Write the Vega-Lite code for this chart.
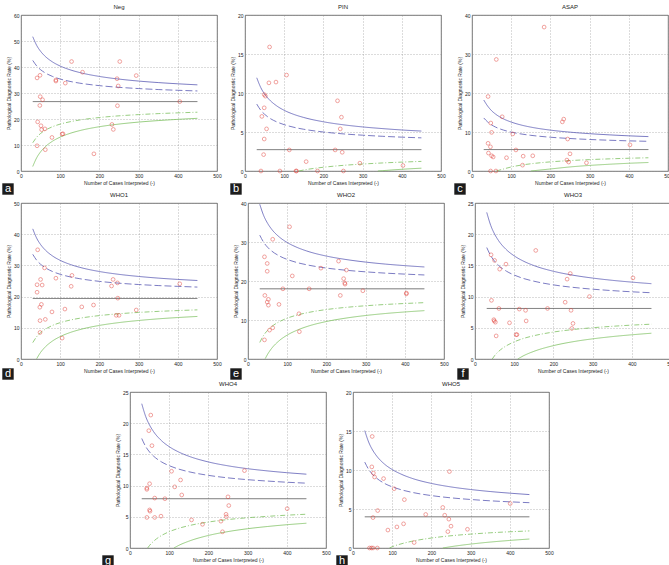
{
  "$schema": "https://vega.github.io/schema/vega-lite/v6.json",
  "background": "white",
  "padding": {"top": 3, "left": 1, "right": 0, "bottom": 0},
  "config": {
    "font": "Liberation Sans",
    "view": {"stroke": "#555555", "strokeWidth": 0.8},
    "axis": {"labelFontSize": 5, "titleFontSize": 5, "titleFontWeight": "normal", "labelColor": "#222222", "titleColor": "#222222", "gridColor": "#8a8a8a", "gridDash": [1, 2], "gridWidth": 0.6, "domain": false, "ticks": false, "labelPadding": 2, "titlePadding": 2, "labelOverlap": false, "labelFlush": false},
    "title": {"fontSize": 6, "fontWeight": "normal", "offset": 3, "color": "#222222"}
  },
  "datasets": {
    "tags": [
      {"p": "a", "letter": "a"}, {"p": "b", "letter": "b"}, {"p": "c", "letter": "c"},
      {"p": "d", "letter": "d"}, {"p": "e", "letter": "e"}, {"p": "f", "letter": "f"},
      {"p": "g", "letter": "g"}, {"p": "h", "letter": "h"}
    ],
    "pts": [
      {"p": "a", "n": 129, "v": 42.1}, {"p": "a", "n": 252, "v": 42.1}, {"p": "a", "n": 41, "v": 35.8}, {"p": "a", "n": 48.5, "v": 36.8}, {"p": "a", "n": 89, "v": 35.0}, {"p": "a", "n": 89, "v": 34.6}, {"p": "a", "n": 113, "v": 33.8}, {"p": "a", "n": 157, "v": 38.0}, {"p": "a", "n": 245, "v": 35.5}, {"p": "a", "n": 248, "v": 32.7}, {"p": "a", "n": 294, "v": 36.7}, {"p": "a", "n": 49, "v": 28.6}, {"p": "a", "n": 55, "v": 27.4}, {"p": "a", "n": 48, "v": 25.2}, {"p": "a", "n": 246, "v": 25.1}, {"p": "a", "n": 405, "v": 26.7}, {"p": "a", "n": 42.5, "v": 18.9}, {"p": "a", "n": 51, "v": 17.4}, {"p": "a", "n": 52.7, "v": 15.9}, {"p": "a", "n": 61, "v": 16.2}, {"p": "a", "n": 79, "v": 12.9}, {"p": "a", "n": 105, "v": 14.2}, {"p": "a", "n": 107, "v": 14.3}, {"p": "a", "n": 41, "v": 9.7}, {"p": "a", "n": 62, "v": 8.2}, {"p": "a", "n": 186, "v": 6.6}, {"p": "a", "n": 232, "v": 17.9}, {"p": "a", "n": 235.5, "v": 16.0},
      {"p": "b", "n": 62.7, "v": 15.9}, {"p": "b", "n": 61, "v": 11.3}, {"p": "b", "n": 79, "v": 11.4}, {"p": "b", "n": 106, "v": 12.3}, {"p": "b", "n": 49, "v": 9.8}, {"p": "b", "n": 52, "v": 9.6}, {"p": "b", "n": 49, "v": 8.1}, {"p": "b", "n": 43, "v": 7.0}, {"p": "b", "n": 55, "v": 5.4}, {"p": "b", "n": 49, "v": 4.1}, {"p": "b", "n": 47.5, "v": 2.1}, {"p": "b", "n": 113, "v": 2.7}, {"p": "b", "n": 156, "v": 1.2}, {"p": "b", "n": 230, "v": 2.7}, {"p": "b", "n": 248, "v": 2.4}, {"p": "b", "n": 236, "v": 9.0}, {"p": "b", "n": 246, "v": 6.9}, {"p": "b", "n": 243, "v": 5.4}, {"p": "b", "n": 293, "v": 1.0}, {"p": "b", "n": 403, "v": 0.7}, {"p": "b", "n": 40.7, "v": 0}, {"p": "b", "n": 89, "v": 0}, {"p": "b", "n": 130, "v": 0}, {"p": "b", "n": 131.5, "v": 0}, {"p": "b", "n": 185, "v": 0}, {"p": "b", "n": 251, "v": 0},
      {"p": "c", "n": 184, "v": 36.9}, {"p": "c", "n": 62, "v": 28.6}, {"p": "c", "n": 41, "v": 19.1}, {"p": "c", "n": 77, "v": 13.9}, {"p": "c", "n": 48, "v": 12.3}, {"p": "c", "n": 50, "v": 9.9}, {"p": "c", "n": 104, "v": 9.5}, {"p": "c", "n": 41, "v": 7.1}, {"p": "c", "n": 47, "v": 6.2}, {"p": "c", "n": 230.5, "v": 12.6}, {"p": "c", "n": 234, "v": 13.3}, {"p": "c", "n": 244, "v": 8.2}, {"p": "c", "n": 403, "v": 6.7}, {"p": "c", "n": 112, "v": 5.4}, {"p": "c", "n": 42, "v": 4.6}, {"p": "c", "n": 50, "v": 3.9}, {"p": "c", "n": 54, "v": 3.6}, {"p": "c", "n": 88, "v": 3.4}, {"p": "c", "n": 130.5, "v": 3.8}, {"p": "c", "n": 155, "v": 3.9}, {"p": "c", "n": 250, "v": 4.4}, {"p": "c", "n": 242, "v": 2.8}, {"p": "c", "n": 246.6, "v": 2.3}, {"p": "c", "n": 292, "v": 2.1}, {"p": "c", "n": 129, "v": 1.5}, {"p": "c", "n": 47.5, "v": 0}, {"p": "c", "n": 61, "v": 0},
      {"p": "d", "n": 42.5, "v": 35.0}, {"p": "d", "n": 60, "v": 29.2}, {"p": "d", "n": 130, "v": 26.8}, {"p": "d", "n": 89, "v": 25.9}, {"p": "d", "n": 50, "v": 25.5}, {"p": "d", "n": 41, "v": 23.8}, {"p": "d", "n": 54, "v": 23.7}, {"p": "d", "n": 41, "v": 21.4}, {"p": "d", "n": 128, "v": 23.3}, {"p": "d", "n": 235, "v": 25.5}, {"p": "d", "n": 246, "v": 24.4}, {"p": "d", "n": 231, "v": 23.4}, {"p": "d", "n": 405, "v": 24.1}, {"p": "d", "n": 247, "v": 19.5}, {"p": "d", "n": 52, "v": 17.5}, {"p": "d", "n": 48, "v": 16.6}, {"p": "d", "n": 155, "v": 16.7}, {"p": "d", "n": 185, "v": 17.3}, {"p": "d", "n": 112, "v": 16.0}, {"p": "d", "n": 79, "v": 15.1}, {"p": "d", "n": 294, "v": 15.7}, {"p": "d", "n": 62, "v": 12.7}, {"p": "d", "n": 48.5, "v": 12.3}, {"p": "d", "n": 243, "v": 14.0}, {"p": "d", "n": 250, "v": 14.0}, {"p": "d", "n": 48.5, "v": 8.5}, {"p": "d", "n": 105, "v": 6.7},
      {"p": "e", "n": 106, "v": 33.9}, {"p": "e", "n": 63, "v": 30.7}, {"p": "e", "n": 42, "v": 26.2}, {"p": "e", "n": 49, "v": 24.5}, {"p": "e", "n": 49, "v": 22.5}, {"p": "e", "n": 113, "v": 21.3}, {"p": "e", "n": 186, "v": 23.3}, {"p": "e", "n": 231, "v": 25.1}, {"p": "e", "n": 251, "v": 22.8}, {"p": "e", "n": 244, "v": 20.6}, {"p": "e", "n": 247, "v": 19.5}, {"p": "e", "n": 247.5, "v": 19.2}, {"p": "e", "n": 89, "v": 18.0}, {"p": "e", "n": 156, "v": 18.0}, {"p": "e", "n": 293, "v": 17.5}, {"p": "e", "n": 404, "v": 16.9}, {"p": "e", "n": 404, "v": 16.7}, {"p": "e", "n": 43, "v": 16.3}, {"p": "e", "n": 235.5, "v": 16.3}, {"p": "e", "n": 52, "v": 15.3}, {"p": "e", "n": 49, "v": 14.6}, {"p": "e", "n": 52, "v": 13.8}, {"p": "e", "n": 79, "v": 14.0}, {"p": "e", "n": 130, "v": 11.6}, {"p": "e", "n": 63, "v": 8.0}, {"p": "e", "n": 55, "v": 7.4}, {"p": "e", "n": 131, "v": 7.0}, {"p": "e", "n": 42, "v": 4.9},
      {"p": "f", "n": 155, "v": 17.4}, {"p": "f", "n": 41, "v": 16.7}, {"p": "f", "n": 50, "v": 15.8}, {"p": "f", "n": 79, "v": 15.2}, {"p": "f", "n": 63, "v": 14.4}, {"p": "f", "n": 243, "v": 13.7}, {"p": "f", "n": 235, "v": 12.8}, {"p": "f", "n": 403, "v": 13.0}, {"p": "f", "n": 292, "v": 10.0}, {"p": "f", "n": 42, "v": 9.4}, {"p": "f", "n": 230, "v": 9.1}, {"p": "f", "n": 61, "v": 8.1}, {"p": "f", "n": 113, "v": 8.0}, {"p": "f", "n": 185, "v": 8.1}, {"p": "f", "n": 129, "v": 7.8}, {"p": "f", "n": 245, "v": 7.8}, {"p": "f", "n": 48, "v": 6.3}, {"p": "f", "n": 49, "v": 6.1}, {"p": "f", "n": 52, "v": 5.9}, {"p": "f", "n": 88, "v": 5.8}, {"p": "f", "n": 130.5, "v": 6.1}, {"p": "f", "n": 250, "v": 5.7}, {"p": "f", "n": 247, "v": 4.9}, {"p": "f", "n": 105, "v": 3.9}, {"p": "f", "n": 107, "v": 3.9}, {"p": "f", "n": 54, "v": 3.7},
      {"p": "g", "n": 53, "v": 21.3}, {"p": "g", "n": 48, "v": 18.8}, {"p": "g", "n": 56, "v": 16.4}, {"p": "g", "n": 106, "v": 12.3}, {"p": "g", "n": 292, "v": 12.4}, {"p": "g", "n": 129, "v": 10.9}, {"p": "g", "n": 50, "v": 10.3}, {"p": "g", "n": 114, "v": 9.8}, {"p": "g", "n": 43, "v": 9.6}, {"p": "g", "n": 43, "v": 9.4}, {"p": "g", "n": 132, "v": 8.5}, {"p": "g", "n": 63, "v": 8.0}, {"p": "g", "n": 89, "v": 7.9}, {"p": "g", "n": 250, "v": 8.2}, {"p": "g", "n": 252, "v": 6.8}, {"p": "g", "n": 50, "v": 6.1}, {"p": "g", "n": 51, "v": 5.9}, {"p": "g", "n": 401, "v": 6.3}, {"p": "g", "n": 43, "v": 4.9}, {"p": "g", "n": 63, "v": 4.9}, {"p": "g", "n": 79, "v": 5.1}, {"p": "g", "n": 157, "v": 4.5}, {"p": "g", "n": 185, "v": 3.8}, {"p": "g", "n": 232, "v": 4.3}, {"p": "g", "n": 245, "v": 5.4}, {"p": "g", "n": 246, "v": 5.0}, {"p": "g", "n": 236, "v": 2.6},
      {"p": "h", "n": 49, "v": 14.3}, {"p": "h", "n": 48, "v": 10.4}, {"p": "h", "n": 52, "v": 9.6}, {"p": "h", "n": 55, "v": 9.1}, {"p": "h", "n": 78, "v": 8.9}, {"p": "h", "n": 246, "v": 9.8}, {"p": "h", "n": 105, "v": 7.6}, {"p": "h", "n": 131, "v": 6.2}, {"p": "h", "n": 401, "v": 5.7}, {"p": "h", "n": 63, "v": 4.8}, {"p": "h", "n": 229, "v": 5.2}, {"p": "h", "n": 185.5, "v": 4.3}, {"p": "h", "n": 234, "v": 4.2}, {"p": "h", "n": 51, "v": 3.9}, {"p": "h", "n": 244.5, "v": 3.7}, {"p": "h", "n": 129, "v": 3.1}, {"p": "h", "n": 250, "v": 2.8}, {"p": "h", "n": 112, "v": 2.7}, {"p": "h", "n": 89, "v": 2.3}, {"p": "h", "n": 292, "v": 2.4}, {"p": "h", "n": 242, "v": 2.1}, {"p": "h", "n": 156, "v": 0.7}, {"p": "h", "n": 42, "v": 0}, {"p": "h", "n": 47, "v": 0}, {"p": "h", "n": 51, "v": 0}, {"p": "h", "n": 62, "v": 0}
    ],
    "lim": [
      {"p": "a", "c": "m", "n": 30, "v": 26.7}, {"p": "a", "c": "m", "n": 450, "v": 26.7},
      {"p": "a", "c": "u3", "n": 30, "v": 51.66}, {"p": "a", "c": "u3", "n": 40, "v": 48.31}, {"p": "a", "c": "u3", "n": 50, "v": 46.03}, {"p": "a", "c": "u3", "n": 60, "v": 44.35}, {"p": "a", "c": "u3", "n": 80, "v": 41.98}, {"p": "a", "c": "u3", "n": 100, "v": 40.37}, {"p": "a", "c": "u3", "n": 125, "v": 38.93}, {"p": "a", "c": "u3", "n": 150, "v": 37.86}, {"p": "a", "c": "u3", "n": 200, "v": 36.37}, {"p": "a", "c": "u3", "n": 250, "v": 35.35}, {"p": "a", "c": "u3", "n": 300, "v": 34.59}, {"p": "a", "c": "u3", "n": 350, "v": 34.01}, {"p": "a", "c": "u3", "n": 400, "v": 33.54}, {"p": "a", "c": "u3", "n": 450, "v": 33.14},
      {"p": "a", "c": "u2", "n": 30, "v": 42.53}, {"p": "a", "c": "u2", "n": 40, "v": 40.41}, {"p": "a", "c": "u2", "n": 50, "v": 38.96}, {"p": "a", "c": "u2", "n": 60, "v": 37.89}, {"p": "a", "c": "u2", "n": 80, "v": 36.39}, {"p": "a", "c": "u2", "n": 100, "v": 35.37}, {"p": "a", "c": "u2", "n": 125, "v": 34.46}, {"p": "a", "c": "u2", "n": 150, "v": 33.78}, {"p": "a", "c": "u2", "n": 200, "v": 32.83}, {"p": "a", "c": "u2", "n": 250, "v": 32.18}, {"p": "a", "c": "u2", "n": 300, "v": 31.71}, {"p": "a", "c": "u2", "n": 350, "v": 31.33}, {"p": "a", "c": "u2", "n": 400, "v": 31.04}, {"p": "a", "c": "u2", "n": 450, "v": 30.79},
      {"p": "a", "c": "l2", "n": 30, "v": 10.87}, {"p": "a", "c": "l2", "n": 40, "v": 12.99}, {"p": "a", "c": "l2", "n": 50, "v": 14.44}, {"p": "a", "c": "l2", "n": 60, "v": 15.51}, {"p": "a", "c": "l2", "n": 80, "v": 17.01}, {"p": "a", "c": "l2", "n": 100, "v": 18.03}, {"p": "a", "c": "l2", "n": 125, "v": 18.94}, {"p": "a", "c": "l2", "n": 150, "v": 19.62}, {"p": "a", "c": "l2", "n": 200, "v": 20.57}, {"p": "a", "c": "l2", "n": 250, "v": 21.22}, {"p": "a", "c": "l2", "n": 300, "v": 21.69}, {"p": "a", "c": "l2", "n": 350, "v": 22.07}, {"p": "a", "c": "l2", "n": 400, "v": 22.36}, {"p": "a", "c": "l2", "n": 450, "v": 22.61},
      {"p": "a", "c": "l3", "n": 30, "v": 1.74}, {"p": "a", "c": "l3", "n": 40, "v": 5.09}, {"p": "a", "c": "l3", "n": 50, "v": 7.37}, {"p": "a", "c": "l3", "n": 60, "v": 9.05}, {"p": "a", "c": "l3", "n": 80, "v": 11.42}, {"p": "a", "c": "l3", "n": 100, "v": 13.03}, {"p": "a", "c": "l3", "n": 125, "v": 14.47}, {"p": "a", "c": "l3", "n": 150, "v": 15.54}, {"p": "a", "c": "l3", "n": 200, "v": 17.03}, {"p": "a", "c": "l3", "n": 250, "v": 18.05}, {"p": "a", "c": "l3", "n": 300, "v": 18.81}, {"p": "a", "c": "l3", "n": 350, "v": 19.39}, {"p": "a", "c": "l3", "n": 400, "v": 19.86}, {"p": "a", "c": "l3", "n": 450, "v": 20.26},

      {"p": "b", "c": "m", "n": 30, "v": 2.74}, {"p": "b", "c": "m", "n": 450, "v": 2.74},
      {"p": "b", "c": "u3", "n": 30, "v": 11.95}, {"p": "b", "c": "u3", "n": 40, "v": 10.72}, {"p": "b", "c": "u3", "n": 50, "v": 9.87}, {"p": "b", "c": "u3", "n": 60, "v": 9.25}, {"p": "b", "c": "u3", "n": 80, "v": 8.38}, {"p": "b", "c": "u3", "n": 100, "v": 7.78}, {"p": "b", "c": "u3", "n": 125, "v": 7.25}, {"p": "b", "c": "u3", "n": 150, "v": 6.86}, {"p": "b", "c": "u3", "n": 200, "v": 6.31}, {"p": "b", "c": "u3", "n": 250, "v": 5.93}, {"p": "b", "c": "u3", "n": 300, "v": 5.65}, {"p": "b", "c": "u3", "n": 350, "v": 5.44}, {"p": "b", "c": "u3", "n": 400, "v": 5.26}, {"p": "b", "c": "u3", "n": 450, "v": 5.12},
      {"p": "b", "c": "u2", "n": 30, "v": 8.58}, {"p": "b", "c": "u2", "n": 40, "v": 7.80}, {"p": "b", "c": "u2", "n": 50, "v": 7.27}, {"p": "b", "c": "u2", "n": 60, "v": 6.87}, {"p": "b", "c": "u2", "n": 80, "v": 6.32}, {"p": "b", "c": "u2", "n": 100, "v": 5.94}, {"p": "b", "c": "u2", "n": 125, "v": 5.60}, {"p": "b", "c": "u2", "n": 150, "v": 5.35}, {"p": "b", "c": "u2", "n": 200, "v": 5.00}, {"p": "b", "c": "u2", "n": 250, "v": 4.76}, {"p": "b", "c": "u2", "n": 300, "v": 4.59}, {"p": "b", "c": "u2", "n": 350, "v": 4.45}, {"p": "b", "c": "u2", "n": 400, "v": 4.34}, {"p": "b", "c": "u2", "n": 450, "v": 4.25},
      {"p": "b", "c": "l2", "n": 137, "v": 0}, {"p": "b", "c": "l2", "n": 150, "v": 0.13}, {"p": "b", "c": "l2", "n": 200, "v": 0.48}, {"p": "b", "c": "l2", "n": 250, "v": 0.72}, {"p": "b", "c": "l2", "n": 300, "v": 0.89}, {"p": "b", "c": "l2", "n": 350, "v": 1.03}, {"p": "b", "c": "l2", "n": 400, "v": 1.14}, {"p": "b", "c": "l2", "n": 450, "v": 1.23},
      {"p": "b", "c": "l3", "n": 339, "v": 0}, {"p": "b", "c": "l3", "n": 350, "v": 0.04}, {"p": "b", "c": "l3", "n": 400, "v": 0.22}, {"p": "b", "c": "l3", "n": 450, "v": 0.36},

      {"p": "c", "c": "m", "n": 30, "v": 5.5}, {"p": "c", "c": "m", "n": 450, "v": 5.5},
      {"p": "c", "c": "u3", "n": 30, "v": 18.2}, {"p": "c", "c": "u3", "n": 40, "v": 16.64}, {"p": "c", "c": "u3", "n": 50, "v": 15.46}, {"p": "c", "c": "u3", "n": 60, "v": 14.60}, {"p": "c", "c": "u3", "n": 80, "v": 13.38}, {"p": "c", "c": "u3", "n": 100, "v": 12.55}, {"p": "c", "c": "u3", "n": 125, "v": 11.80}, {"p": "c", "c": "u3", "n": 150, "v": 11.25}, {"p": "c", "c": "u3", "n": 200, "v": 10.48}, {"p": "c", "c": "u3", "n": 250, "v": 9.96}, {"p": "c", "c": "u3", "n": 300, "v": 9.57}, {"p": "c", "c": "u3", "n": 350, "v": 9.27}, {"p": "c", "c": "u3", "n": 400, "v": 9.02}, {"p": "c", "c": "u3", "n": 450, "v": 8.82},
      {"p": "c", "c": "u2", "n": 30, "v": 13.6}, {"p": "c", "c": "u2", "n": 40, "v": 12.57}, {"p": "c", "c": "u2", "n": 50, "v": 11.82}, {"p": "c", "c": "u2", "n": 60, "v": 11.27}, {"p": "c", "c": "u2", "n": 80, "v": 10.50}, {"p": "c", "c": "u2", "n": 100, "v": 9.97}, {"p": "c", "c": "u2", "n": 125, "v": 9.50}, {"p": "c", "c": "u2", "n": 150, "v": 9.15}, {"p": "c", "c": "u2", "n": 200, "v": 8.66}, {"p": "c", "c": "u2", "n": 250, "v": 8.33}, {"p": "c", "c": "u2", "n": 300, "v": 8.08}, {"p": "c", "c": "u2", "n": 350, "v": 7.89}, {"p": "c", "c": "u2", "n": 400, "v": 7.73}, {"p": "c", "c": "u2", "n": 450, "v": 7.61},
      {"p": "c", "c": "l2", "n": 62, "v": 0}, {"p": "c", "c": "l2", "n": 80, "v": 0.50}, {"p": "c", "c": "l2", "n": 100, "v": 1.03}, {"p": "c", "c": "l2", "n": 125, "v": 1.50}, {"p": "c", "c": "l2", "n": 150, "v": 1.85}, {"p": "c", "c": "l2", "n": 200, "v": 2.34}, {"p": "c", "c": "l2", "n": 250, "v": 2.67}, {"p": "c", "c": "l2", "n": 300, "v": 2.92}, {"p": "c", "c": "l2", "n": 350, "v": 3.11}, {"p": "c", "c": "l2", "n": 400, "v": 3.27}, {"p": "c", "c": "l2", "n": 450, "v": 3.39},
      {"p": "c", "c": "l3", "n": 150, "v": 0}, {"p": "c", "c": "l3", "n": 200, "v": 0.52}, {"p": "c", "c": "l3", "n": 250, "v": 1.04}, {"p": "c", "c": "l3", "n": 300, "v": 1.43}, {"p": "c", "c": "l3", "n": 350, "v": 1.73}, {"p": "c", "c": "l3", "n": 400, "v": 1.98}, {"p": "c", "c": "l3", "n": 450, "v": 2.18},

      {"p": "d", "c": "m", "n": 30, "v": 19.4}, {"p": "d", "c": "m", "n": 450, "v": 19.4},
      {"p": "d", "c": "u3", "n": 30, "v": 41.71}, {"p": "d", "c": "u3", "n": 40, "v": 38.72}, {"p": "d", "c": "u3", "n": 50, "v": 36.68}, {"p": "d", "c": "u3", "n": 60, "v": 35.18}, {"p": "d", "c": "u3", "n": 80, "v": 33.06}, {"p": "d", "c": "u3", "n": 100, "v": 31.62}, {"p": "d", "c": "u3", "n": 125, "v": 30.33}, {"p": "d", "c": "u3", "n": 150, "v": 29.38}, {"p": "d", "c": "u3", "n": 200, "v": 28.04}, {"p": "d", "c": "u3", "n": 250, "v": 27.13}, {"p": "d", "c": "u3", "n": 300, "v": 26.46}, {"p": "d", "c": "u3", "n": 350, "v": 25.93}, {"p": "d", "c": "u3", "n": 400, "v": 25.51}, {"p": "d", "c": "u3", "n": 450, "v": 25.16},
      {"p": "d", "c": "u2", "n": 30, "v": 33.55}, {"p": "d", "c": "u2", "n": 40, "v": 31.65}, {"p": "d", "c": "u2", "n": 50, "v": 30.36}, {"p": "d", "c": "u2", "n": 60, "v": 29.41}, {"p": "d", "c": "u2", "n": 80, "v": 28.06}, {"p": "d", "c": "u2", "n": 100, "v": 27.15}, {"p": "d", "c": "u2", "n": 125, "v": 26.33}, {"p": "d", "c": "u2", "n": 150, "v": 25.73}, {"p": "d", "c": "u2", "n": 200, "v": 24.88}, {"p": "d", "c": "u2", "n": 250, "v": 24.30}, {"p": "d", "c": "u2", "n": 300, "v": 23.87}, {"p": "d", "c": "u2", "n": 350, "v": 23.54}, {"p": "d", "c": "u2", "n": 400, "v": 23.28}, {"p": "d", "c": "u2", "n": 450, "v": 23.05},
      {"p": "d", "c": "l2", "n": 30, "v": 5.25}, {"p": "d", "c": "l2", "n": 40, "v": 7.15}, {"p": "d", "c": "l2", "n": 50, "v": 8.44}, {"p": "d", "c": "l2", "n": 60, "v": 9.39}, {"p": "d", "c": "l2", "n": 80, "v": 10.74}, {"p": "d", "c": "l2", "n": 100, "v": 11.65}, {"p": "d", "c": "l2", "n": 125, "v": 12.47}, {"p": "d", "c": "l2", "n": 150, "v": 13.07}, {"p": "d", "c": "l2", "n": 200, "v": 13.92}, {"p": "d", "c": "l2", "n": 250, "v": 14.50}, {"p": "d", "c": "l2", "n": 300, "v": 14.93}, {"p": "d", "c": "l2", "n": 350, "v": 15.26}, {"p": "d", "c": "l2", "n": 400, "v": 15.52}, {"p": "d", "c": "l2", "n": 450, "v": 15.75},
      {"p": "d", "c": "l3", "n": 40, "v": 0.08}, {"p": "d", "c": "l3", "n": 50, "v": 2.12}, {"p": "d", "c": "l3", "n": 60, "v": 3.62}, {"p": "d", "c": "l3", "n": 80, "v": 5.74}, {"p": "d", "c": "l3", "n": 100, "v": 7.18}, {"p": "d", "c": "l3", "n": 125, "v": 8.47}, {"p": "d", "c": "l3", "n": 150, "v": 9.42}, {"p": "d", "c": "l3", "n": 200, "v": 10.76}, {"p": "d", "c": "l3", "n": 250, "v": 11.67}, {"p": "d", "c": "l3", "n": 300, "v": 12.34}, {"p": "d", "c": "l3", "n": 350, "v": 12.87}, {"p": "d", "c": "l3", "n": 400, "v": 13.29}, {"p": "d", "c": "l3", "n": 450, "v": 13.64},

      {"p": "e", "c": "m", "n": 30, "v": 18.0}, {"p": "e", "c": "m", "n": 450, "v": 18.0},
      {"p": "e", "c": "u3", "n": 30, "v": 39.67}, {"p": "e", "c": "u3", "n": 40, "v": 36.77}, {"p": "e", "c": "u3", "n": 50, "v": 34.79}, {"p": "e", "c": "u3", "n": 60, "v": 33.32}, {"p": "e", "c": "u3", "n": 80, "v": 31.27}, {"p": "e", "c": "u3", "n": 100, "v": 29.87}, {"p": "e", "c": "u3", "n": 125, "v": 28.62}, {"p": "e", "c": "u3", "n": 150, "v": 27.69}, {"p": "e", "c": "u3", "n": 200, "v": 26.39}, {"p": "e", "c": "u3", "n": 250, "v": 25.51}, {"p": "e", "c": "u3", "n": 300, "v": 24.85}, {"p": "e", "c": "u3", "n": 350, "v": 24.34}, {"p": "e", "c": "u3", "n": 400, "v": 23.94}, {"p": "e", "c": "u3", "n": 450, "v": 23.60},
      {"p": "e", "c": "u2", "n": 30, "v": 31.75}, {"p": "e", "c": "u2", "n": 40, "v": 29.91}, {"p": "e", "c": "u2", "n": 50, "v": 28.65}, {"p": "e", "c": "u2", "n": 60, "v": 27.72}, {"p": "e", "c": "u2", "n": 80, "v": 26.42}, {"p": "e", "c": "u2", "n": 100, "v": 25.53}, {"p": "e", "c": "u2", "n": 125, "v": 24.73}, {"p": "e", "c": "u2", "n": 150, "v": 24.15}, {"p": "e", "c": "u2", "n": 200, "v": 23.32}, {"p": "e", "c": "u2", "n": 250, "v": 22.76}, {"p": "e", "c": "u2", "n": 300, "v": 22.35}, {"p": "e", "c": "u2", "n": 350, "v": 22.02}, {"p": "e", "c": "u2", "n": 400, "v": 21.77}, {"p": "e", "c": "u2", "n": 450, "v": 21.55},
      {"p": "e", "c": "l2", "n": 30, "v": 4.25}, {"p": "e", "c": "l2", "n": 40, "v": 6.09}, {"p": "e", "c": "l2", "n": 50, "v": 7.35}, {"p": "e", "c": "l2", "n": 60, "v": 8.28}, {"p": "e", "c": "l2", "n": 80, "v": 9.58}, {"p": "e", "c": "l2", "n": 100, "v": 10.47}, {"p": "e", "c": "l2", "n": 125, "v": 11.27}, {"p": "e", "c": "l2", "n": 150, "v": 11.85}, {"p": "e", "c": "l2", "n": 200, "v": 12.68}, {"p": "e", "c": "l2", "n": 250, "v": 13.24}, {"p": "e", "c": "l2", "n": 300, "v": 13.65}, {"p": "e", "c": "l2", "n": 350, "v": 13.98}, {"p": "e", "c": "l2", "n": 400, "v": 14.23}, {"p": "e", "c": "l2", "n": 450, "v": 14.45},
      {"p": "e", "c": "l3", "n": 44, "v": 0.1}, {"p": "e", "c": "l3", "n": 50, "v": 1.21}, {"p": "e", "c": "l3", "n": 60, "v": 2.68}, {"p": "e", "c": "l3", "n": 80, "v": 4.73}, {"p": "e", "c": "l3", "n": 100, "v": 6.13}, {"p": "e", "c": "l3", "n": 125, "v": 7.38}, {"p": "e", "c": "l3", "n": 150, "v": 8.31}, {"p": "e", "c": "l3", "n": 200, "v": 9.61}, {"p": "e", "c": "l3", "n": 250, "v": 10.49}, {"p": "e", "c": "l3", "n": 300, "v": 11.15}, {"p": "e", "c": "l3", "n": 350, "v": 11.66}, {"p": "e", "c": "l3", "n": 400, "v": 12.06}, {"p": "e", "c": "l3", "n": 450, "v": 12.40},

      {"p": "f", "c": "m", "n": 30, "v": 8.1}, {"p": "f", "c": "m", "n": 450, "v": 8.1},
      {"p": "f", "c": "u3", "n": 30, "v": 23.49}, {"p": "f", "c": "u3", "n": 40, "v": 21.43}, {"p": "f", "c": "u3", "n": 50, "v": 20.02}, {"p": "f", "c": "u3", "n": 60, "v": 18.98}, {"p": "f", "c": "u3", "n": 80, "v": 17.52}, {"p": "f", "c": "u3", "n": 100, "v": 16.53}, {"p": "f", "c": "u3", "n": 125, "v": 15.64}, {"p": "f", "c": "u3", "n": 150, "v": 14.98}, {"p": "f", "c": "u3", "n": 200, "v": 14.06}, {"p": "f", "c": "u3", "n": 250, "v": 13.43}, {"p": "f", "c": "u3", "n": 300, "v": 12.97}, {"p": "f", "c": "u3", "n": 350, "v": 12.61}, {"p": "f", "c": "u3", "n": 400, "v": 12.32}, {"p": "f", "c": "u3", "n": 450, "v": 12.07},
      {"p": "f", "c": "u2", "n": 30, "v": 17.86}, {"p": "f", "c": "u2", "n": 40, "v": 16.56}, {"p": "f", "c": "u2", "n": 50, "v": 15.66}, {"p": "f", "c": "u2", "n": 60, "v": 15.00}, {"p": "f", "c": "u2", "n": 80, "v": 14.08}, {"p": "f", "c": "u2", "n": 100, "v": 13.45}, {"p": "f", "c": "u2", "n": 125, "v": 12.88}, {"p": "f", "c": "u2", "n": 150, "v": 12.47}, {"p": "f", "c": "u2", "n": 200, "v": 11.88}, {"p": "f", "c": "u2", "n": 250, "v": 11.48}, {"p": "f", "c": "u2", "n": 300, "v": 11.19}, {"p": "f", "c": "u2", "n": 350, "v": 10.96}, {"p": "f", "c": "u2", "n": 400, "v": 10.77}, {"p": "f", "c": "u2", "n": 450, "v": 10.62},
      {"p": "f", "c": "l2", "n": 44, "v": 0}, {"p": "f", "c": "l2", "n": 50, "v": 0.54}, {"p": "f", "c": "l2", "n": 60, "v": 1.20}, {"p": "f", "c": "l2", "n": 80, "v": 2.12}, {"p": "f", "c": "l2", "n": 100, "v": 2.75}, {"p": "f", "c": "l2", "n": 125, "v": 3.32}, {"p": "f", "c": "l2", "n": 150, "v": 3.73}, {"p": "f", "c": "l2", "n": 200, "v": 4.32}, {"p": "f", "c": "l2", "n": 250, "v": 4.72}, {"p": "f", "c": "l2", "n": 300, "v": 5.01}, {"p": "f", "c": "l2", "n": 350, "v": 5.24}, {"p": "f", "c": "l2", "n": 400, "v": 5.43}, {"p": "f", "c": "l2", "n": 450, "v": 5.58},
      {"p": "f", "c": "l3", "n": 109, "v": 0}, {"p": "f", "c": "l3", "n": 125, "v": 0.56}, {"p": "f", "c": "l3", "n": 150, "v": 1.22}, {"p": "f", "c": "l3", "n": 200, "v": 2.14}, {"p": "f", "c": "l3", "n": 250, "v": 2.77}, {"p": "f", "c": "l3", "n": 300, "v": 3.23}, {"p": "f", "c": "l3", "n": 350, "v": 3.59}, {"p": "f", "c": "l3", "n": 400, "v": 3.88}, {"p": "f", "c": "l3", "n": 450, "v": 4.13},

      {"p": "g", "c": "m", "n": 30, "v": 7.9}, {"p": "g", "c": "m", "n": 450, "v": 7.9},
      {"p": "g", "c": "u3", "n": 30, "v": 23.12}, {"p": "g", "c": "u3", "n": 40, "v": 21.08}, {"p": "g", "c": "u3", "n": 50, "v": 19.69}, {"p": "g", "c": "u3", "n": 60, "v": 18.66}, {"p": "g", "c": "u3", "n": 80, "v": 17.22}, {"p": "g", "c": "u3", "n": 100, "v": 16.24}, {"p": "g", "c": "u3", "n": 125, "v": 15.36}, {"p": "g", "c": "u3", "n": 150, "v": 14.71}, {"p": "g", "c": "u3", "n": 200, "v": 13.79}, {"p": "g", "c": "u3", "n": 250, "v": 13.17}, {"p": "g", "c": "u3", "n": 300, "v": 12.71}, {"p": "g", "c": "u3", "n": 350, "v": 12.36}, {"p": "g", "c": "u3", "n": 400, "v": 12.07}, {"p": "g", "c": "u3", "n": 450, "v": 11.83},
      {"p": "g", "c": "u2", "n": 30, "v": 17.55}, {"p": "g", "c": "u2", "n": 40, "v": 16.26}, {"p": "g", "c": "u2", "n": 50, "v": 15.38}, {"p": "g", "c": "u2", "n": 60, "v": 14.73}, {"p": "g", "c": "u2", "n": 80, "v": 13.81}, {"p": "g", "c": "u2", "n": 100, "v": 13.19}, {"p": "g", "c": "u2", "n": 125, "v": 12.63}, {"p": "g", "c": "u2", "n": 150, "v": 12.22}, {"p": "g", "c": "u2", "n": 200, "v": 11.64}, {"p": "g", "c": "u2", "n": 250, "v": 11.24}, {"p": "g", "c": "u2", "n": 300, "v": 10.95}, {"p": "g", "c": "u2", "n": 350, "v": 10.73}, {"p": "g", "c": "u2", "n": 400, "v": 10.54}, {"p": "g", "c": "u2", "n": 450, "v": 10.39},
      {"p": "g", "c": "l2", "n": 45, "v": 0}, {"p": "g", "c": "l2", "n": 50, "v": 0.42}, {"p": "g", "c": "l2", "n": 60, "v": 1.07}, {"p": "g", "c": "l2", "n": 80, "v": 1.99}, {"p": "g", "c": "l2", "n": 100, "v": 2.61}, {"p": "g", "c": "l2", "n": 125, "v": 3.17}, {"p": "g", "c": "l2", "n": 150, "v": 3.58}, {"p": "g", "c": "l2", "n": 200, "v": 4.16}, {"p": "g", "c": "l2", "n": 250, "v": 4.56}, {"p": "g", "c": "l2", "n": 300, "v": 4.85}, {"p": "g", "c": "l2", "n": 350, "v": 5.07}, {"p": "g", "c": "l2", "n": 400, "v": 5.26}, {"p": "g", "c": "l2", "n": 450, "v": 5.41},
      {"p": "g", "c": "l3", "n": 112, "v": 0}, {"p": "g", "c": "l3", "n": 125, "v": 0.44}, {"p": "g", "c": "l3", "n": 150, "v": 1.09}, {"p": "g", "c": "l3", "n": 200, "v": 2.01}, {"p": "g", "c": "l3", "n": 250, "v": 2.63}, {"p": "g", "c": "l3", "n": 300, "v": 3.09}, {"p": "g", "c": "l3", "n": 350, "v": 3.44}, {"p": "g", "c": "l3", "n": 400, "v": 3.73}, {"p": "g", "c": "l3", "n": 450, "v": 3.97},

      {"p": "h", "c": "m", "n": 30, "v": 4.0}, {"p": "h", "c": "m", "n": 450, "v": 4.0},
      {"p": "h", "c": "u3", "n": 30, "v": 15.05}, {"p": "h", "c": "u3", "n": 40, "v": 13.57}, {"p": "h", "c": "u3", "n": 50, "v": 12.56}, {"p": "h", "c": "u3", "n": 60, "v": 11.82}, {"p": "h", "c": "u3", "n": 80, "v": 10.77}, {"p": "h", "c": "u3", "n": 100, "v": 10.06}, {"p": "h", "c": "u3", "n": 125, "v": 9.42}, {"p": "h", "c": "u3", "n": 150, "v": 8.94}, {"p": "h", "c": "u3", "n": 200, "v": 8.28}, {"p": "h", "c": "u3", "n": 250, "v": 7.83}, {"p": "h", "c": "u3", "n": 300, "v": 7.50}, {"p": "h", "c": "u3", "n": 350, "v": 7.24}, {"p": "h", "c": "u3", "n": 400, "v": 7.03}, {"p": "h", "c": "u3", "n": 450, "v": 6.85},
      {"p": "h", "c": "u2", "n": 30, "v": 11.01}, {"p": "h", "c": "u2", "n": 40, "v": 10.07}, {"p": "h", "c": "u2", "n": 50, "v": 9.43}, {"p": "h", "c": "u2", "n": 60, "v": 8.96}, {"p": "h", "c": "u2", "n": 80, "v": 8.29}, {"p": "h", "c": "u2", "n": 100, "v": 7.84}, {"p": "h", "c": "u2", "n": 125, "v": 7.44}, {"p": "h", "c": "u2", "n": 150, "v": 7.14}, {"p": "h", "c": "u2", "n": 200, "v": 6.72}, {"p": "h", "c": "u2", "n": 250, "v": 6.43}, {"p": "h", "c": "u2", "n": 300, "v": 6.22}, {"p": "h", "c": "u2", "n": 350, "v": 6.05}, {"p": "h", "c": "u2", "n": 400, "v": 5.92}, {"p": "h", "c": "u2", "n": 450, "v": 5.81},
      {"p": "h", "c": "l2", "n": 93, "v": 0}, {"p": "h", "c": "l2", "n": 100, "v": 0.16}, {"p": "h", "c": "l2", "n": 125, "v": 0.56}, {"p": "h", "c": "l2", "n": 150, "v": 0.86}, {"p": "h", "c": "l2", "n": 200, "v": 1.28}, {"p": "h", "c": "l2", "n": 250, "v": 1.57}, {"p": "h", "c": "l2", "n": 300, "v": 1.78}, {"p": "h", "c": "l2", "n": 350, "v": 1.95}, {"p": "h", "c": "l2", "n": 400, "v": 2.08}, {"p": "h", "c": "l2", "n": 450, "v": 2.19},
      {"p": "h", "c": "l3", "n": 229, "v": 0}, {"p": "h", "c": "l3", "n": 250, "v": 0.17}, {"p": "h", "c": "l3", "n": 300, "v": 0.50}, {"p": "h", "c": "l3", "n": 350, "v": 0.76}, {"p": "h", "c": "l3", "n": 400, "v": 0.97}, {"p": "h", "c": "l3", "n": 450, "v": 1.15}
    ]
  },
  "vconcat": [
    {"vconcat": [
      {"hconcat": [
        {"title": "Neg", "width": 196, "height": 156, "layer": [
          {"encoding": {
             "x": {"field": "n", "type": "quantitative", "scale": {"domain": [0, 500], "nice": false}, "axis": {"values": [0, 100, 200, 300, 400, 500], "title": "Number of Cases Interpreted (-)"}},
             "y": {"field": "v", "type": "quantitative", "scale": {"domain": [0, 60], "nice": false}, "axis": {"values": [0, 10, 20, 30, 40, 50, 60], "title": "Pathological Diagnostic Rate (%)"}}
           },
           "layer": [
            {"data": {"name": "lim"}, "transform": [{"filter": "datum.p == 'a'"}], "mark": {"type": "line", "interpolate": "monotone", "strokeWidth": 0.8}, "encoding": {"color": {"field": "c", "type": "nominal", "scale": {"domain": ["m", "u3", "u2", "l2", "l3"], "range": ["#4d4d4d", "#5a5ab4", "#5a5ab4", "#7ec061", "#7ec061"]}, "legend": null}, "strokeDash": {"field": "c", "type": "nominal", "scale": {"domain": ["m", "u3", "u2", "l2", "l3"], "range": [[1, 0], [1, 0], [7, 3], [5, 2, 1, 2], [1, 0]]}, "legend": null}}},
            {"data": {"name": "pts"}, "transform": [{"filter": "datum.p == 'a'"}], "mark": {"type": "point", "shape": "circle", "filled": false, "color": "#e2443c", "size": 14, "strokeWidth": 0.7}, "encoding": {}}
           ]},
          {"data": {"name": "tags"}, "transform": [{"filter": "datum.p == 'a'"}], "mark": {"type": "point", "shape": "square", "filled": true, "color": "#1c1c1c", "opacity": 1, "size": 130, "xOffset": -13, "yOffset": 18}, "encoding": {"x": {"datum": 0, "type": "quantitative", "axis": {"values": [0, 100, 200, 300, 400, 500], "title": "Number of Cases Interpreted (-)"}}, "y": {"datum": 0, "type": "quantitative", "axis": {"values": [0, 10, 20, 30, 40, 50, 60], "title": "Pathological Diagnostic Rate (%)"}}}},
          {"data": {"name": "tags"}, "transform": [{"filter": "datum.p == 'a'"}], "mark": {"type": "text", "color": "white", "fontSize": 11, "align": "center", "baseline": "middle", "xOffset": -13, "yOffset": 18}, "encoding": {"x": {"datum": 0, "type": "quantitative", "axis": {"values": [0, 100, 200, 300, 400, 500], "title": "Number of Cases Interpreted (-)"}}, "y": {"datum": 0, "type": "quantitative", "axis": {"values": [0, 10, 20, 30, 40, 50, 60], "title": "Pathological Diagnostic Rate (%)"}}, "text": {"field": "letter"}}}
        ]},
        {"title": "PIN", "width": 196, "height": 156, "layer": [
          {"encoding": {
             "x": {"field": "n", "type": "quantitative", "scale": {"domain": [0, 500], "nice": false}, "axis": {"values": [0, 100, 200, 300, 400, 500], "title": "Number of Cases Interpreted (-)"}},
             "y": {"field": "v", "type": "quantitative", "scale": {"domain": [0, 20], "nice": false}, "axis": {"values": [0, 5, 10, 15, 20], "title": "Pathological Diagnostic Rate (%)"}}
           },
           "layer": [
            {"data": {"name": "lim"}, "transform": [{"filter": "datum.p == 'b'"}], "mark": {"type": "line", "interpolate": "monotone", "strokeWidth": 0.8}, "encoding": {"color": {"field": "c", "type": "nominal", "scale": {"domain": ["m", "u3", "u2", "l2", "l3"], "range": ["#4d4d4d", "#5a5ab4", "#5a5ab4", "#7ec061", "#7ec061"]}, "legend": null}, "strokeDash": {"field": "c", "type": "nominal", "scale": {"domain": ["m", "u3", "u2", "l2", "l3"], "range": [[1, 0], [1, 0], [7, 3], [5, 2, 1, 2], [1, 0]]}, "legend": null}}},
            {"data": {"name": "pts"}, "transform": [{"filter": "datum.p == 'b'"}], "mark": {"type": "point", "shape": "circle", "filled": false, "color": "#e2443c", "size": 14, "strokeWidth": 0.7}, "encoding": {}}
           ]},
          {"data": {"name": "tags"}, "transform": [{"filter": "datum.p == 'b'"}], "mark": {"type": "point", "shape": "square", "filled": true, "color": "#1c1c1c", "opacity": 1, "size": 130, "xOffset": -9, "yOffset": 18}, "encoding": {"x": {"datum": 0, "type": "quantitative", "axis": {"values": [0, 100, 200, 300, 400, 500], "title": "Number of Cases Interpreted (-)"}}, "y": {"datum": 0, "type": "quantitative", "axis": {"values": [0, 5, 10, 15, 20], "title": "Pathological Diagnostic Rate (%)"}}}},
          {"data": {"name": "tags"}, "transform": [{"filter": "datum.p == 'b'"}], "mark": {"type": "text", "color": "white", "fontSize": 11, "align": "center", "baseline": "middle", "xOffset": -9, "yOffset": 18}, "encoding": {"x": {"datum": 0, "type": "quantitative", "axis": {"values": [0, 100, 200, 300, 400, 500], "title": "Number of Cases Interpreted (-)"}}, "y": {"datum": 0, "type": "quantitative", "axis": {"values": [0, 5, 10, 15, 20], "title": "Pathological Diagnostic Rate (%)"}}, "text": {"field": "letter"}}}
        ]},
        {"title": "ASAP", "width": 196, "height": 156, "layer": [
          {"encoding": {
             "x": {"field": "n", "type": "quantitative", "scale": {"domain": [0, 500], "nice": false}, "axis": {"values": [0, 100, 200, 300, 400, 500], "title": "Number of Cases Interpreted (-)"}},
             "y": {"field": "v", "type": "quantitative", "scale": {"domain": [0, 40], "nice": false}, "axis": {"values": [0, 10, 20, 30, 40], "title": "Pathological Diagnostic Rate (%)"}}
           },
           "layer": [
            {"data": {"name": "lim"}, "transform": [{"filter": "datum.p == 'c'"}], "mark": {"type": "line", "interpolate": "monotone", "strokeWidth": 0.8}, "encoding": {"color": {"field": "c", "type": "nominal", "scale": {"domain": ["m", "u3", "u2", "l2", "l3"], "range": ["#4d4d4d", "#5a5ab4", "#5a5ab4", "#7ec061", "#7ec061"]}, "legend": null}, "strokeDash": {"field": "c", "type": "nominal", "scale": {"domain": ["m", "u3", "u2", "l2", "l3"], "range": [[1, 0], [1, 0], [7, 3], [5, 2, 1, 2], [1, 0]]}, "legend": null}}},
            {"data": {"name": "pts"}, "transform": [{"filter": "datum.p == 'c'"}], "mark": {"type": "point", "shape": "circle", "filled": false, "color": "#e2443c", "size": 14, "strokeWidth": 0.7}, "encoding": {}}
           ]},
          {"data": {"name": "tags"}, "transform": [{"filter": "datum.p == 'c'"}], "mark": {"type": "point", "shape": "square", "filled": true, "color": "#1c1c1c", "opacity": 1, "size": 130, "xOffset": -12, "yOffset": 18}, "encoding": {"x": {"datum": 0, "type": "quantitative", "axis": {"values": [0, 100, 200, 300, 400, 500], "title": "Number of Cases Interpreted (-)"}}, "y": {"datum": 0, "type": "quantitative", "axis": {"values": [0, 10, 20, 30, 40], "title": "Pathological Diagnostic Rate (%)"}}}},
          {"data": {"name": "tags"}, "transform": [{"filter": "datum.p == 'c'"}], "mark": {"type": "text", "color": "white", "fontSize": 11, "align": "center", "baseline": "middle", "xOffset": -12, "yOffset": 18}, "encoding": {"x": {"datum": 0, "type": "quantitative", "axis": {"values": [0, 100, 200, 300, 400, 500], "title": "Number of Cases Interpreted (-)"}}, "y": {"datum": 0, "type": "quantitative", "axis": {"values": [0, 10, 20, 30, 40], "title": "Pathological Diagnostic Rate (%)"}}, "text": {"field": "letter"}}}
        ]}
      ], "spacing": 7},
      {"hconcat": [
        {"title": "WHO1", "width": 196, "height": 156, "layer": [
          {"encoding": {
             "x": {"field": "n", "type": "quantitative", "scale": {"domain": [0, 500], "nice": false}, "axis": {"values": [0, 100, 200, 300, 400, 500], "title": "Number of Cases Interpreted (-)"}},
             "y": {"field": "v", "type": "quantitative", "scale": {"domain": [0, 50], "nice": false}, "axis": {"values": [0, 10, 20, 30, 40, 50], "title": "Pathological Diagnostic Rate (%)"}}
           },
           "layer": [
            {"data": {"name": "lim"}, "transform": [{"filter": "datum.p == 'd'"}], "mark": {"type": "line", "interpolate": "monotone", "strokeWidth": 0.8}, "encoding": {"color": {"field": "c", "type": "nominal", "scale": {"domain": ["m", "u3", "u2", "l2", "l3"], "range": ["#4d4d4d", "#5a5ab4", "#5a5ab4", "#7ec061", "#7ec061"]}, "legend": null}, "strokeDash": {"field": "c", "type": "nominal", "scale": {"domain": ["m", "u3", "u2", "l2", "l3"], "range": [[1, 0], [1, 0], [7, 3], [5, 2, 1, 2], [1, 0]]}, "legend": null}}},
            {"data": {"name": "pts"}, "transform": [{"filter": "datum.p == 'd'"}], "mark": {"type": "point", "shape": "circle", "filled": false, "color": "#e2443c", "size": 14, "strokeWidth": 0.7}, "encoding": {}}
           ]},
          {"data": {"name": "tags"}, "transform": [{"filter": "datum.p == 'd'"}], "mark": {"type": "point", "shape": "square", "filled": true, "color": "#1c1c1c", "opacity": 1, "size": 130, "xOffset": -13, "yOffset": 15}, "encoding": {"x": {"datum": 0, "type": "quantitative", "axis": {"values": [0, 100, 200, 300, 400, 500], "title": "Number of Cases Interpreted (-)"}}, "y": {"datum": 0, "type": "quantitative", "axis": {"values": [0, 10, 20, 30, 40, 50], "title": "Pathological Diagnostic Rate (%)"}}}},
          {"data": {"name": "tags"}, "transform": [{"filter": "datum.p == 'd'"}], "mark": {"type": "text", "color": "white", "fontSize": 11, "align": "center", "baseline": "middle", "xOffset": -13, "yOffset": 15}, "encoding": {"x": {"datum": 0, "type": "quantitative", "axis": {"values": [0, 100, 200, 300, 400, 500], "title": "Number of Cases Interpreted (-)"}}, "y": {"datum": 0, "type": "quantitative", "axis": {"values": [0, 10, 20, 30, 40, 50], "title": "Pathological Diagnostic Rate (%)"}}, "text": {"field": "letter"}}}
        ]},
        {"title": "WHO2", "width": 196, "height": 156, "layer": [
          {"encoding": {
             "x": {"field": "n", "type": "quantitative", "scale": {"domain": [0, 500], "nice": false}, "axis": {"values": [0, 100, 200, 300, 400, 500], "title": "Number of Cases Interpreted (-)"}},
             "y": {"field": "v", "type": "quantitative", "scale": {"domain": [0, 40], "nice": false}, "axis": {"values": [0, 10, 20, 30, 40], "title": "Pathological Diagnostic Rate (%)"}}
           },
           "layer": [
            {"data": {"name": "lim"}, "transform": [{"filter": "datum.p == 'e'"}], "mark": {"type": "line", "interpolate": "monotone", "strokeWidth": 0.8}, "encoding": {"color": {"field": "c", "type": "nominal", "scale": {"domain": ["m", "u3", "u2", "l2", "l3"], "range": ["#4d4d4d", "#5a5ab4", "#5a5ab4", "#7ec061", "#7ec061"]}, "legend": null}, "strokeDash": {"field": "c", "type": "nominal", "scale": {"domain": ["m", "u3", "u2", "l2", "l3"], "range": [[1, 0], [1, 0], [7, 3], [5, 2, 1, 2], [1, 0]]}, "legend": null}}},
            {"data": {"name": "pts"}, "transform": [{"filter": "datum.p == 'e'"}], "mark": {"type": "point", "shape": "circle", "filled": false, "color": "#e2443c", "size": 14, "strokeWidth": 0.7}, "encoding": {}}
           ]},
          {"data": {"name": "tags"}, "transform": [{"filter": "datum.p == 'e'"}], "mark": {"type": "point", "shape": "square", "filled": true, "color": "#1c1c1c", "opacity": 1, "size": 130, "xOffset": -12, "yOffset": 15}, "encoding": {"x": {"datum": 0, "type": "quantitative", "axis": {"values": [0, 100, 200, 300, 400, 500], "title": "Number of Cases Interpreted (-)"}}, "y": {"datum": 0, "type": "quantitative", "axis": {"values": [0, 10, 20, 30, 40], "title": "Pathological Diagnostic Rate (%)"}}}},
          {"data": {"name": "tags"}, "transform": [{"filter": "datum.p == 'e'"}], "mark": {"type": "text", "color": "white", "fontSize": 11, "align": "center", "baseline": "middle", "xOffset": -12, "yOffset": 15}, "encoding": {"x": {"datum": 0, "type": "quantitative", "axis": {"values": [0, 100, 200, 300, 400, 500], "title": "Number of Cases Interpreted (-)"}}, "y": {"datum": 0, "type": "quantitative", "axis": {"values": [0, 10, 20, 30, 40], "title": "Pathological Diagnostic Rate (%)"}}, "text": {"field": "letter"}}}
        ]},
        {"title": "WHO3", "width": 196, "height": 156, "layer": [
          {"encoding": {
             "x": {"field": "n", "type": "quantitative", "scale": {"domain": [0, 500], "nice": false}, "axis": {"values": [0, 100, 200, 300, 400, 500], "title": "Number of Cases Interpreted (-)"}},
             "y": {"field": "v", "type": "quantitative", "scale": {"domain": [0, 25], "nice": false}, "axis": {"values": [0, 5, 10, 15, 20, 25], "title": "Pathological Diagnostic Rate (%)"}}
           },
           "layer": [
            {"data": {"name": "lim"}, "transform": [{"filter": "datum.p == 'f'"}], "mark": {"type": "line", "interpolate": "monotone", "strokeWidth": 0.8}, "encoding": {"color": {"field": "c", "type": "nominal", "scale": {"domain": ["m", "u3", "u2", "l2", "l3"], "range": ["#4d4d4d", "#5a5ab4", "#5a5ab4", "#7ec061", "#7ec061"]}, "legend": null}, "strokeDash": {"field": "c", "type": "nominal", "scale": {"domain": ["m", "u3", "u2", "l2", "l3"], "range": [[1, 0], [1, 0], [7, 3], [5, 2, 1, 2], [1, 0]]}, "legend": null}}},
            {"data": {"name": "pts"}, "transform": [{"filter": "datum.p == 'f'"}], "mark": {"type": "point", "shape": "circle", "filled": false, "color": "#e2443c", "size": 14, "strokeWidth": 0.7}, "encoding": {}}
           ]},
          {"data": {"name": "tags"}, "transform": [{"filter": "datum.p == 'f'"}], "mark": {"type": "point", "shape": "square", "filled": true, "color": "#1c1c1c", "opacity": 1, "size": 130, "xOffset": -12, "yOffset": 15}, "encoding": {"x": {"datum": 0, "type": "quantitative", "axis": {"values": [0, 100, 200, 300, 400, 500], "title": "Number of Cases Interpreted (-)"}}, "y": {"datum": 0, "type": "quantitative", "axis": {"values": [0, 5, 10, 15, 20, 25], "title": "Pathological Diagnostic Rate (%)"}}}},
          {"data": {"name": "tags"}, "transform": [{"filter": "datum.p == 'f'"}], "mark": {"type": "text", "color": "white", "fontSize": 11, "align": "center", "baseline": "middle", "xOffset": -12, "yOffset": 15}, "encoding": {"x": {"datum": 0, "type": "quantitative", "axis": {"values": [0, 100, 200, 300, 400, 500], "title": "Number of Cases Interpreted (-)"}}, "y": {"datum": 0, "type": "quantitative", "axis": {"values": [0, 5, 10, 15, 20, 25], "title": "Pathological Diagnostic Rate (%)"}}, "text": {"field": "letter"}}}
        ]}
      ], "spacing": 7}
    ], "spacing": -5},
    {"hconcat": [
      {"width": 76, "height": 10, "data": {"values": []}, "mark": {"type": "point", "opacity": 0}, "view": {"stroke": null}},
      {"title": "WHO4", "width": 196, "height": 156, "layer": [
        {"encoding": {
           "x": {"field": "n", "type": "quantitative", "scale": {"domain": [0, 500], "nice": false}, "axis": {"values": [0, 100, 200, 300, 400, 500], "title": "Number of Cases Interpreted (-)"}},
           "y": {"field": "v", "type": "quantitative", "scale": {"domain": [0, 25], "nice": false}, "axis": {"values": [0, 5, 10, 15, 20, 25], "title": "Pathological Diagnostic Rate (%)"}}
         },
         "layer": [
          {"data": {"name": "lim"}, "transform": [{"filter": "datum.p == 'g'"}], "mark": {"type": "line", "interpolate": "monotone", "strokeWidth": 0.8}, "encoding": {"color": {"field": "c", "type": "nominal", "scale": {"domain": ["m", "u3", "u2", "l2", "l3"], "range": ["#4d4d4d", "#5a5ab4", "#5a5ab4", "#7ec061", "#7ec061"]}, "legend": null}, "strokeDash": {"field": "c", "type": "nominal", "scale": {"domain": ["m", "u3", "u2", "l2", "l3"], "range": [[1, 0], [1, 0], [7, 3], [5, 2, 1, 2], [1, 0]]}, "legend": null}}},
          {"data": {"name": "pts"}, "transform": [{"filter": "datum.p == 'g'"}], "mark": {"type": "point", "shape": "circle", "filled": false, "color": "#e2443c", "size": 14, "strokeWidth": 0.7}, "encoding": {}}
         ]},
        {"data": {"name": "tags"}, "transform": [{"filter": "datum.p == 'g'"}], "mark": {"type": "point", "shape": "square", "filled": true, "color": "#1c1c1c", "opacity": 1, "size": 130, "xOffset": -22, "yOffset": 13}, "encoding": {"x": {"datum": 0, "type": "quantitative", "axis": {"values": [0, 100, 200, 300, 400, 500], "title": "Number of Cases Interpreted (-)"}}, "y": {"datum": 0, "type": "quantitative", "axis": {"values": [0, 5, 10, 15, 20, 25], "title": "Pathological Diagnostic Rate (%)"}}}},
        {"data": {"name": "tags"}, "transform": [{"filter": "datum.p == 'g'"}], "mark": {"type": "text", "color": "white", "fontSize": 11, "align": "center", "baseline": "middle", "xOffset": -22, "yOffset": 13}, "encoding": {"x": {"datum": 0, "type": "quantitative", "axis": {"values": [0, 100, 200, 300, 400, 500], "title": "Number of Cases Interpreted (-)"}}, "y": {"datum": 0, "type": "quantitative", "axis": {"values": [0, 5, 10, 15, 20, 25], "title": "Pathological Diagnostic Rate (%)"}}, "text": {"field": "letter"}}}
      ]},
      {"title": "WHO5", "width": 196, "height": 156, "layer": [
        {"encoding": {
           "x": {"field": "n", "type": "quantitative", "scale": {"domain": [0, 500], "nice": false}, "axis": {"values": [0, 100, 200, 300, 400, 500], "title": "Number of Cases Interpreted (-)"}},
           "y": {"field": "v", "type": "quantitative", "scale": {"domain": [0, 20], "nice": false}, "axis": {"values": [0, 5, 10, 15, 20], "title": "Pathological Diagnostic Rate (%)"}}
         },
         "layer": [
          {"data": {"name": "lim"}, "transform": [{"filter": "datum.p == 'h'"}], "mark": {"type": "line", "interpolate": "monotone", "strokeWidth": 0.8}, "encoding": {"color": {"field": "c", "type": "nominal", "scale": {"domain": ["m", "u3", "u2", "l2", "l3"], "range": ["#4d4d4d", "#5a5ab4", "#5a5ab4", "#7ec061", "#7ec061"]}, "legend": null}, "strokeDash": {"field": "c", "type": "nominal", "scale": {"domain": ["m", "u3", "u2", "l2", "l3"], "range": [[1, 0], [1, 0], [7, 3], [5, 2, 1, 2], [1, 0]]}, "legend": null}}},
          {"data": {"name": "pts"}, "transform": [{"filter": "datum.p == 'h'"}], "mark": {"type": "point", "shape": "circle", "filled": false, "color": "#e2443c", "size": 14, "strokeWidth": 0.7}, "encoding": {}}
         ]},
        {"data": {"name": "tags"}, "transform": [{"filter": "datum.p == 'h'"}], "mark": {"type": "point", "shape": "square", "filled": true, "color": "#1c1c1c", "opacity": 1, "size": 130, "xOffset": -11, "yOffset": 13}, "encoding": {"x": {"datum": 0, "type": "quantitative", "axis": {"values": [0, 100, 200, 300, 400, 500], "title": "Number of Cases Interpreted (-)"}}, "y": {"datum": 0, "type": "quantitative", "axis": {"values": [0, 5, 10, 15, 20], "title": "Pathological Diagnostic Rate (%)"}}}},
        {"data": {"name": "tags"}, "transform": [{"filter": "datum.p == 'h'"}], "mark": {"type": "text", "color": "white", "fontSize": 11, "align": "center", "baseline": "middle", "xOffset": -11, "yOffset": 13}, "encoding": {"x": {"datum": 0, "type": "quantitative", "axis": {"values": [0, 100, 200, 300, 400, 500], "title": "Number of Cases Interpreted (-)"}}, "y": {"datum": 0, "type": "quantitative", "axis": {"values": [0, 5, 10, 15, 20], "title": "Pathological Diagnostic Rate (%)"}}, "text": {"field": "letter"}}}
      ]}
    ], "spacing": 4}
  ],
  "spacing": -1
}
